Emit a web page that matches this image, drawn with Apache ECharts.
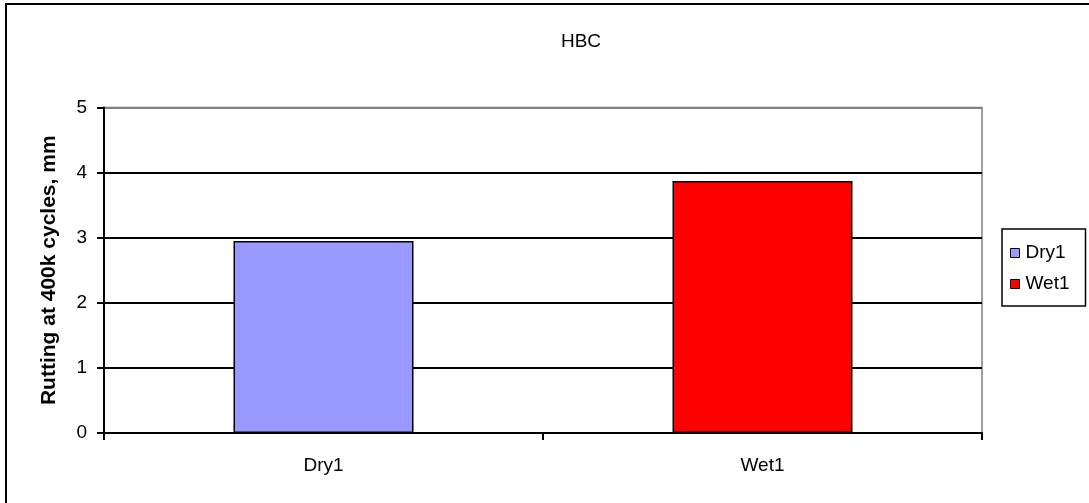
<!DOCTYPE html>
<html>
<head>
<meta charset="utf-8">
<script src="https://cdn.jsdelivr.net/npm/echarts@6/dist/echarts.min.js"></script>
<style>
  html, body { margin: 0; padding: 0; background: #fff; }
  #chart { width: 1089px; height: 503px; }
</style>
</head>
<body>
<div id="chart"></div>
<script>
// Rutting depth after 400k load cycles, dry vs wet conditioning
const categories = ['Dry1', 'Wet1'];
const seriesNames = ['Dry1', 'Wet1'];
const rutting = [2.95, 3.87];
const seriesColors = ['#9999FF', '#FF0000'];
const yTicks = [0, 1, 2, 3, 4, 5];

const FONT = 'Liberation Sans, Arial, sans-serif';

const chart = echarts.init(document.getElementById('chart'));

// one series per category, stacked so each bar sits centred in its slot
const series = seriesNames.map((name, i) => ({
  name: name,
  type: 'bar',
  stack: 'rut',
  barWidth: '41%',
  data: categories.map((c, j) => (j === i ? rutting[i] : null)),
  itemStyle: { color: seriesColors[i], borderColor: '#000', borderWidth: 1.5 }
}));

chart.setOption({
  animation: false,
  backgroundColor: '#fff',
  textStyle: { fontFamily: FONT },
  title: {
    text: 'HBC',
    left: 576,
    top: 27,
    textAlign: 'center',
    textStyle: { fontFamily: FONT, fontSize: 19, fontWeight: 'normal', color: '#000' }
  },
  legend: {
    orient: 'vertical',
    left: 1002,
    top: 229,
    padding: [14, 16, 12, 8],
    itemGap: 11,
    itemWidth: 9,
    itemHeight: 9,
    borderColor: '#000',
    borderWidth: 1.5,
    icon: 'rect',
    itemStyle: { borderColor: '#000', borderWidth: 1 },
    textStyle: { fontFamily: FONT, fontSize: 19, lineHeight: 20, color: '#000', padding: [0, 0, 0, 1] },
    data: seriesNames
  },
  grid: {
    left: 104,
    top: 107.5,
    right: 107,
    height: 325.5,
    show: true,
    borderColor: '#808080',
    borderWidth: 1.5
  },
  xAxis: {
    type: 'category',
    data: categories,
    axisLine: { lineStyle: { color: '#000', width: 2 } },
    axisTick: { show: true, length: 7, lineStyle: { color: '#000', width: 2 } },
    axisLabel: { color: '#000', fontSize: 19, fontFamily: FONT, margin: 23 }
  },
  yAxis: {
    type: 'value',
    min: yTicks[0],
    max: yTicks[yTicks.length - 1],
    interval: 1,
    name: 'Rutting at 400k cycles, mm',
    nameLocation: 'middle',
    nameGap: 44,
    nameTextStyle: { fontFamily: FONT, fontSize: 21, fontWeight: 'bold', color: '#000' },
    axisLine: { show: true, lineStyle: { color: '#000', width: 2 } },
    axisTick: { show: true, length: 7, lineStyle: { color: '#000', width: 2 } },
    axisLabel: { color: '#000', fontSize: 19, fontFamily: FONT, margin: 17 },
    splitLine: {
      show: true,
      lineStyle: { color: ['#000', '#000', '#000', '#000', '#000', '#808080'], width: 2 }
    }
  },
  graphic: [{
    type: 'rect',
    shape: { x: 6, y: 4, width: 1200, height: 600 },
    style: { fill: null, stroke: '#000', lineWidth: 2 },
    silent: true,
    z: 100
  }],
  series: series
});
</script>
</body>
</html>
